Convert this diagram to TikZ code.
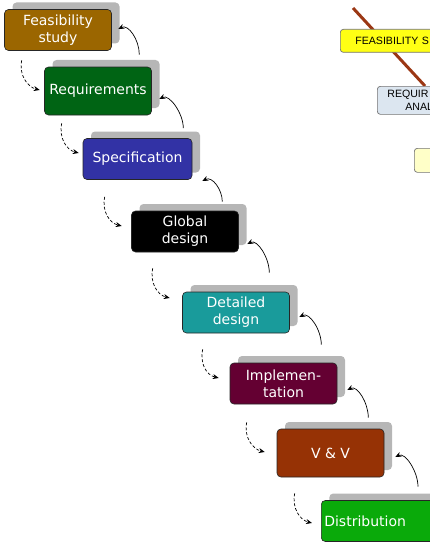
\documentclass[tikz,border=0pt]{standalone}
\usepackage{fontspec}
\setmainfont{DejaVu Sans}
\newfontfamily\mapfont{Liberation Sans}
\usetikzlibrary{arrows.meta,shadows,backgrounds,calc}

\definecolor{fscol}{RGB}{155,102,0}
\definecolor{reqcol}{RGB}{0,100,20}
\definecolor{speccol}{RGB}{50,50,165}
\definecolor{detcol}{RGB}{25,155,155}
\definecolor{implcol}{RGB}{100,0,50}
\definecolor{vvcol}{RGB}{150,50,5}
\definecolor{distcol}{RGB}{10,170,10}
\definecolor{shadowgray}{RGB}{182,182,182}
\definecolor{mapline}{RGB}{155,55,20}
\definecolor{mapyellow}{RGB}{255,255,20}
\definecolor{mapblue}{RGB}{220,230,240}
\definecolor{mapcream}{RGB}{255,255,200}

\tikzset{phase/.style={draw=black!85, line width=0.6pt, rounded corners=4pt,
		text=white, align=center, inner xsep=2pt, minimum width=107pt, minimum height=41pt,
		font=\fontsize{14}{17}\selectfont,
		general shadow={fill=shadowgray, shadow xshift=8pt, shadow yshift=7pt}}}
\tikzset{downflow/.style={-{Stealth[length=6pt,width=5pt]}, line width=0.7pt, dash pattern=on 3pt off 2pt}}
\tikzset{upflow/.style={-{Stealth[length=6pt,width=5pt]}, line width=0.7pt}}
\tikzset{mapbox/.style={draw=black!55, line width=0.7pt, rounded corners=3pt,
		anchor=north west, align=left, font=\mapfont\fontsize{10.6}{13}\selectfont}}

\begin{document}
\begin{tikzpicture}[x=1pt, y=-1pt]
	\useasboundingbox (0,0) rectangle (430,543);
	\clip (0,0) rectangle (430,543);
	
	% phases of the cascade
	\node[phase, fill=fscol] (fs) at (58,30) {Feasibility\\study};
	\node[phase, fill=reqcol, minimum height=48pt] (req) at (98,91) {Requirements};
	\node[phase, fill=speccol, minimum width=109pt] (spec) at (137.5,159) {Specification};
	\node[phase, fill=black] (glob) at (185,231.5) {Global\\design};
	\node[phase, fill=detcol] (det) at (236,312.5) {Detailed\\design};
	\node[phase, fill=implcol] (impl) at (283.5,383.5) {Implemen-\\tation};
	\node[phase, fill=vvcol, minimum height=48pt] (vv) at (330.5,453) {V \& V};
	\node[phase, fill=distcol, anchor=west, text width=115pt, align=left, inner xsep=3pt] (dist) at (321,521) {Distribution};
	
	% going down
	\draw[downflow] ([xshift=17.5pt,yshift=-9.5pt]fs.south west) .. controls +(-3,15) and +(-12,-3) .. ([xshift=-4.5pt,yshift=1pt]req.west);
	\draw[downflow] ([xshift=17.5pt,yshift=-8pt]req.south west) .. controls +(-3,15) and +(-12,-3) .. ([xshift=-4pt,yshift=6pt]spec.west);
	\draw[downflow] ([xshift=22pt,yshift=-17pt]spec.south west) .. controls +(-3,15) and +(-12,-3) .. ([xshift=-9.5pt,yshift=5.5pt]glob.west);
	\draw[downflow] ([xshift=21.5pt,yshift=-16pt]glob.south west) .. controls +(-3,15) and +(-12,-3) .. ([xshift=-12.5pt,yshift=14.5pt]det.west);
	\draw[downflow] ([xshift=20.5pt,yshift=-16pt]det.south west) .. controls +(-3,15) and +(-12,-3) .. ([xshift=-11pt,yshift=5.5pt]impl.west);
	\draw[downflow] ([xshift=17pt,yshift=-18pt]impl.south west) .. controls +(-3,15) and +(-12,-3) .. ([xshift=-12pt,yshift=1pt]vv.west);
	\draw[downflow] ([xshift=18pt,yshift=-16pt]vv.south west) .. controls +(-3,15) and +(-12,-3) .. ([xshift=-9pt,yshift=-2pt]dist.west);
	
	% going back up
	\draw[upflow] ([xshift=-12.5pt,yshift=12pt]req.north east) .. controls +(0,-15) and +(10,-5) .. ([xshift=6.5pt,yshift=1pt]fs.east);
	\draw[upflow] ([xshift=-9pt,yshift=10pt]spec.north east) .. controls +(0,-15) and +(10,-5) .. ([xshift=7.5pt,yshift=-8pt]req.east);
	\draw[upflow] ([xshift=-16.5pt,yshift=9pt]glob.north east) .. controls +(0,-12) and +(10,-5) .. ([xshift=10pt,yshift=-22pt]spec.east);
	\draw[upflow] ([xshift=-20.5pt,yshift=19pt]det.north east) .. controls +(0,-15) and +(10,-5) .. ([xshift=8.5pt,yshift=-12.5pt]glob.east);
	\draw[upflow] ([xshift=-16pt,yshift=18pt]impl.north east) .. controls +(0,-15) and +(10,-5) .. ([xshift=9.5pt,yshift=-4.5pt]det.east);
	\draw[upflow] ([xshift=-16pt,yshift=11pt]vv.north east) .. controls +(0,-15) and +(10,-5) .. ([xshift=10pt,yshift=-6.5pt]impl.east);
	\draw[upflow] ([xshift=97pt,yshift=13.5pt]dist.north west) .. controls +(0,-15) and +(10,-5) .. ([xshift=11pt,yshift=-4pt]vv.east);
	
	% the other map, cut at the edge
	\node[mapbox, fill=mapyellow, text width=95pt, inner xsep=15pt, minimum height=23pt] (fsmap) at (340,29) {FEASIBILITY S};
	\node[mapbox, fill=mapblue, text width=100pt, inner xsep=10pt, minimum height=28pt] (reqmap) at (377,86) {REQUIR\\\hspace*{18pt}ANAL};
	\node[mapbox, fill=mapcream, minimum width=40pt, minimum height=24pt] (nextmap) at (414,148) {};
	\coordinate (maptop) at (353,8);
	\begin{scope}[on background layer]
		\draw[mapline, line width=3pt] (maptop) -- ([xshift=48pt]reqmap.north west);
	\end{scope}
\end{tikzpicture}
\end{document}
